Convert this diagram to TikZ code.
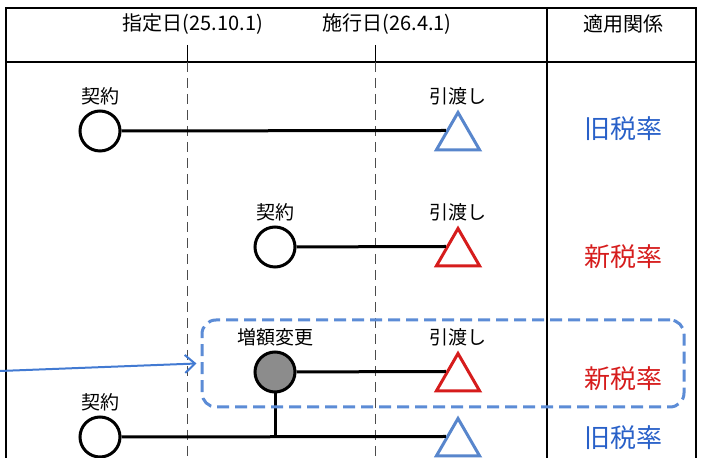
\documentclass[tikz,border=0pt]{standalone}
\usepackage{fontspec}
\setmainfont{Noto Sans CJK JP}
\usetikzlibrary{arrows.meta}
\usetikzlibrary{shapes.geometric}
\usetikzlibrary{positioning}
\definecolor{oldblue}{RGB}{88,134,204}
\definecolor{oldtext}{RGB}{40,96,200}
\definecolor{newred}{RGB}{214,28,28}
\definecolor{boxblue}{RGB}{92,140,214}
\definecolor{arrowblue}{RGB}{66,122,210}
\tikzset{keiyaku/.style={circle,draw=black,line width=1.5pt,minimum size=20pt,inner sep=0pt}}
\tikzset{zougaku/.style={keiyaku,fill=black!45}}
\tikzset{hikiwatashi/.style={regular polygon,regular polygon sides=3,line width=1.5pt,minimum size=25pt,inner sep=0pt}}
\tikzset{tag/.style={font=\fontsize{9.5}{11}\selectfont,inner sep=1pt}}
\tikzset{head/.style={font=\fontsize{10}{12}\selectfont}}
\tikzset{rate/.style={font=\fontsize{13}{15}\selectfont}}
\tikzset{link/.style={line width=1.5pt}}
\tikzset{guide/.style={line width=0.5pt,black!70,dash pattern=on 5pt off 3pt}}

\begin{document}
\begin{tikzpicture}[x=0.5pt,y=-0.5pt]
    \useasboundingbox (0,0) rectangle (702,458);
    \clip (0,0) rectangle (702,458);

    % frame
    \draw[line width=1pt] (6,8) rectangle (696,480);
    \draw[line width=1pt] (6,62) -- (696,62);
    \draw[line width=1pt] (547,8) -- (547,480);

    \node[head] (shitei) at (193,24) {指定日(25.10.1)};
    \node[head] (shikou) at (387,24) {施行日(26.4.1)};
    \node[head] (tekiyou) at (623,24) {適用関係};

    \draw[line width=0.5pt] (187,45) -- (187,62);
    \draw[guide] (187,62) -- (187,480);
    \draw[line width=0.5pt] (375,45) -- (375,62);
    \draw[guide] (375,62) -- (375,480);

    % row 1
    \node[keiyaku] (k1) at (100,131) {};
    \node[tag,above=1pt of k1] (k1lbl) {契約};
    \node[hikiwatashi,draw=oldblue] (h1) at (458,137.5) {};
    \node[tag,above=1pt of h1] (h1lbl) {引渡し};
    \draw[link] (k1) -- (h1.side 1);
    \node[rate,text=oldtext] (r1) at (623,129) {旧税率};

    % row 2
    \node[keiyaku] (k2) at (275,247) {};
    \node[tag,above=1pt of k2] (k2lbl) {契約};
    \node[hikiwatashi,draw=newred] (h2) at (458,253.5) {};
    \node[tag,above=1pt of h2] (h2lbl) {引渡し};
    \draw[link] (k2) -- (h2.side 1);
    \node[rate,text=newred] (r2) at (623,257) {新税率};

    % row 3
    \node[zougaku] (z3) at (275,372) {};
    \node[tag,above=1pt of z3] (z3lbl) {増額変更};
    \node[hikiwatashi,draw=newred] (h3) at (458,378.5) {};
    \node[tag,above=1pt of h3] (h3lbl) {引渡し};
    \draw[link] (z3) -- (h3.side 1);
    \node[rate,text=newred] (r3) at (623,379) {新税率};

    % row 4
    \node[keiyaku] (k4) at (100,437) {};
    \node[tag,above=1pt of k4] (k4lbl) {契約};
    \node[hikiwatashi,draw=oldblue] (h4) at (458,443.5) {};
    \draw[link] (k4) -- (h4.side 1);
    \draw[link] (z3) -- (z3 |- k4);
    \node[rate,text=oldtext] (r4) at (623,438) {旧税率};

    % change
    \node[draw=boxblue,line width=1.5pt,dash pattern=on 6pt off 3pt,rounded corners=7pt,
        minimum width=241pt,minimum height=43.5pt] (henkou) at (443,363.5) {};
    \coordinate (src) at (0,371);
    \draw[arrowblue,line width=1pt,-{Straight Barb[length=5pt,width=9pt]}]
        (src) -- ([xshift=-2pt]henkou.west);
\end{tikzpicture}
\end{document}
